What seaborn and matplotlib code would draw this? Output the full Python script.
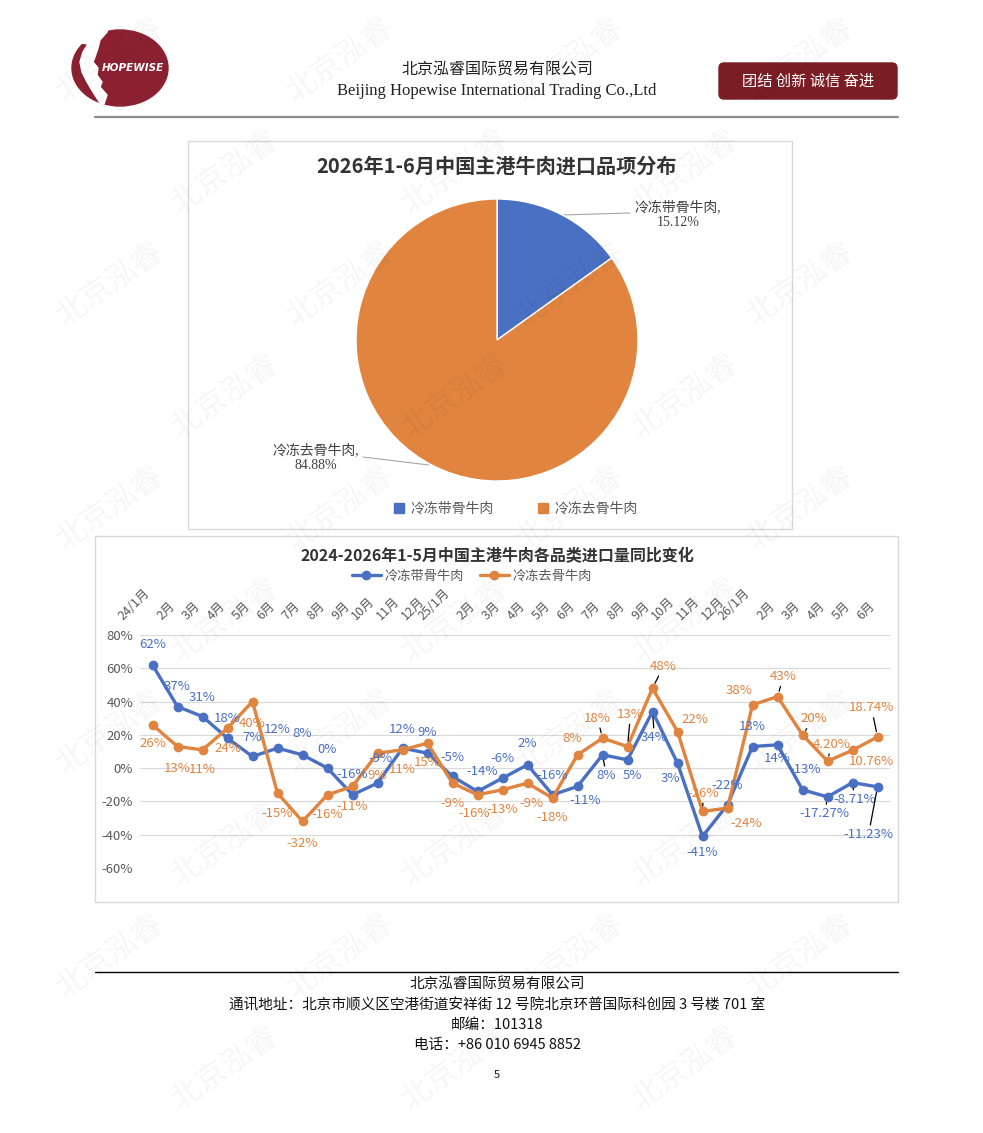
import matplotlib
matplotlib.use("Agg")
import matplotlib.pyplot as plt
from matplotlib.patches import Rectangle, FancyBboxPatch, Ellipse, Polygon, Patch
from matplotlib.ticker import FuncFormatter
import pandas as pd
import seaborn as sns

W, H = 983, 1133

# ---- data ----
pie_title = "2026年1-6月中国主港牛肉进口品项分布"
pie_names = ["冷冻带骨牛肉", "冷冻去骨牛肉"]
pie_shares = [15.12, 84.88]

line_title = "2024-2026年1-5月中国主港牛肉各品类进口量同比变化"
series_names = ["冷冻带骨牛肉", "冷冻去骨牛肉"]
months = ["24/1月", "2月", "3月", "4月", "5月", "6月", "7月", "8月", "9月", "10月", "11月", "12月",
          "25/1月", "2月", "3月", "4月", "5月", "6月", "7月", "8月", "9月", "10月", "11月", "12月",
          "26/1月", "2月", "3月", "4月", "5月", "6月"]
bone_in = [62, 37, 31, 18, 7, 12, 8, 0, -16, -9, 12, 9,
           -5, -14, -6, 2, -16, -11, 8, 5, 34, 3, -41, -22,
           13, 14, -13, -17.27, -8.71, -11.23]
boneless = [26, 13, 11, 24, 40, -15, -32, -16, -11, 9, 11, 15,
            -9, -16, -13, -9, -18, 8, 18, 13, 48, 22, -26, -24,
            38, 43, 20, 4.20, 10.76, 18.74]

# ---- label placement (pixel offsets from the point) ----
bone_off = [(0, 20), (0, 20), (0, 19), (0, 20), (0, 19), (0, 19), (0, 21), (0, 19), (0, 20), (3, 25),
            (0, 19), (0, 21), (0, 19), (5, 20), (0, 20), (0, 21), (0, 19), (8, -14), (4, -21), (5, -16),
            (2, -26), (-7, -15), (0, -16), (0, 19), (0, 20), (0, -14), (3, 20), (-3, -17), (2, -17), (-9, -48)]
boneless_off = [(0, -19), (0, -22), (0, -20), (0, -20), (0, -22), (0, -20), (0, -22), (0, -20), (0, -20), (0, -22),
                (0, -20), (0, -19), (0, -20), (-3, -19), (0, -20), (4, -20), (0, -19), (-5, 16), (-5, 20), (3, 32),
                (11, 22), (17, 12), (1, 18), (19, -15), (-13, 14), (6, 20), (11, 16), (4, 17), (19, -11), (-6, 29)]
bone_leader = {18, 20, 27, 28, 29}
boneless_leader = {18, 19, 20, 22, 25, 26, 27, 29}

BLUE = "#4A70C4"
ORANGE = "#E0843F"
GREY = "#595959"

sns.set_style("white")
plt.rcParams['font.family'] = ['Noto Sans CJK SC', 'DejaVu Sans']
plt.rcParams['axes.unicode_minus'] = False
SERIF = ['Liberation Serif', 'Noto Sans CJK SC']


def box(l, t, r, b):
    return [l / W, 1 - b / H, (r - l) / W, (b - t) / H]


fig = plt.figure(figsize=(W / 100, H / 100), dpi=100, facecolor="white")
bg = fig.add_axes([0, 0, 1, 1], zorder=0)
bg.set_xlim(0, W)
bg.set_ylim(H, 0)
bg.axis("off")

# ---- header ----
bg.add_patch(Ellipse((120, 68), 96, 76, color="#8B2130"))
bg.add_patch(Polygon([(60, 20), (110, 20), (107, 32), (100, 40), (98, 48), (95, 57), (93, 62), (98, 68),
                      (97, 75), (102, 82), (100, 87), (107, 95), (104, 104), (100, 103), (93, 92),
                      (87, 82), (82, 72), (80, 62), (83, 52), (88, 44), (60, 40)],
                     closed=True, color="white"))
bg.text(133, 68, "HOPEWISE", color="white", fontsize=7.5, weight="bold", style="italic",
        ha="center", va="center", family="DejaVu Sans")
bg.text(497, 70, "北京泓睿国际贸易有限公司", fontsize=11.5, ha="center", va="center", color="#222222")
bg.text(497, 91, "Beijing Hopewise International Trading Co.,Ltd", fontsize=12, family="Liberation Serif",
        ha="center", va="center", color="#222222")
bg.add_patch(FancyBboxPatch((719, 63), 178, 36, boxstyle="round,pad=0,rounding_size=5", color="#7A1D25"))
bg.text(808, 81, "团结 创新 诚信 奋进", color="white", fontsize=11, ha="center", va="center")
bg.plot([95, 898], [117, 117], color="#8C8C8C", lw=1.6)

# ---- chart frames ----
bg.add_patch(Rectangle((188, 141), 604, 388, fill=False, ec="#D9D9D9", lw=1))
bg.add_patch(Rectangle((95, 536), 803, 366, fill=False, ec="#D9D9D9", lw=1))

# ---- pie ----
bg.text(497, 166, pie_title, fontsize=14.5, weight="bold", ha="center", va="center", color="#333333")
ax_pie = fig.add_axes(box(356, 199, 638, 481))
ax_pie.pie(pie_shares, colors=[BLUE, ORANGE], startangle=90, counterclock=False, radius=1,
           wedgeprops=dict(edgecolor="white", linewidth=1))
ax_pie.set_xlim(-1, 1)
ax_pie.set_ylim(-1, 1)

bg.plot([562, 630], [215, 213], color="#A6A6A6", lw=0.8)
bg.text(678, 215, f"{pie_names[0]},\n{pie_shares[0]:.2f}%", family=SERIF, fontsize=10,
        ha="center", va="center", color="#404040", linespacing=1.15)
bg.plot([363, 429], [457, 465], color="#A6A6A6", lw=0.8)
bg.text(316, 458, f"{pie_names[1]},\n{pie_shares[1]:.2f}%", family=SERIF, fontsize=10,
        ha="center", va="center", color="#404040", linespacing=1.15)

pie_leg = fig.legend([Patch(color=BLUE), Patch(color=ORANGE)], pie_names, loc="center",
                     bbox_to_anchor=(516 / W, 1 - 509 / H), ncol=2, frameon=False,
                     handlelength=0.7, handleheight=0.7, columnspacing=3.2, handletextpad=0.5,
                     prop={"family": SERIF, "size": 10})
for t in pie_leg.get_texts():
    t.set_color(GREY)

# ---- line chart ----
bg.text(497, 556, line_title, fontsize=11.5, weight="bold", ha="center", va="center", color="#333333")
ax = fig.add_axes(box(140, 635, 890, 868))
df = pd.DataFrame({
    "idx": list(range(len(months))) * 2,
    "value": bone_in + boneless,
    "series": [series_names[0]] * len(months) + [series_names[1]] * len(months),
})
sns.lineplot(data=df, x="idx", y="value", hue="series", hue_order=series_names,
             palette=[BLUE, ORANGE], marker="o", markersize=7, markeredgewidth=0,
             linewidth=2.4, ax=ax)
handles, labels = ax.get_legend_handles_labels()
ax.get_legend().remove()
line_leg = fig.legend(handles, labels, loc="center", bbox_to_anchor=(472 / W, 1 - 576 / H), ncol=2,
                      frameon=False, fontsize=9.5, handlelength=2.2, columnspacing=1.2, handletextpad=0.3)
for t in line_leg.get_texts():
    t.set_color(GREY)

ax.set_xlim(-0.5, len(months) - 0.5)
ax.set_ylim(-60, 80)
ax.set_yticks(range(-60, 81, 20))
ax.yaxis.set_major_formatter(FuncFormatter(lambda v, p: f"{v:.0f}%"))
ax.grid(axis="y", color="#D9D9D9", lw=0.8)
ax.grid(axis="x", visible=False)
for s in ax.spines.values():
    s.set_visible(False)
ax.xaxis.tick_top()
ax.set_xticks(range(len(months)))
ax.set_xticklabels(months, rotation=45, ha="right", fontsize=9, color=GREY)
ax.tick_params(axis="x", length=0, pad=9)
ax.tick_params(axis="y", length=0, pad=5, labelsize=9.5, labelcolor=GREY)
ax.set_xlabel("")
ax.set_ylabel("")


def fmt(v):
    return f"{v}%" if isinstance(v, int) else f"{v:.2f}%"


for vals, offs, leaders, col in [(bone_in, bone_off, bone_leader, BLUE),
                                 (boneless, boneless_off, boneless_leader, ORANGE)]:
    for i, v in enumerate(vals):
        arrow = None
        if i in leaders:
            arrow = dict(arrowstyle="-", color="black", lw=0.9, shrinkA=0, shrinkB=4)
        ax.annotate(fmt(v), (i, v), xytext=offs[i], textcoords="offset pixels",
                    ha="center", va="center", fontsize=9.5, color=col, arrowprops=arrow,
                    annotation_clip=False)

# ---- footer ----
bg.plot([95, 898], [972, 972], color="black", lw=1)
footer = ["北京泓睿国际贸易有限公司",
          "通讯地址：北京市顺义区空港街道安祥街 12 号院北京环普国际科创园 3 号楼 701 室",
          "邮编：101318",
          "电话：+86 010 6945 8852"]
for k, line in enumerate(footer):
    bg.text(497, 985 + 20 * k, line, fontsize=10.5, ha="center", va="center", color="#111111")
bg.text(497, 1075, "5", fontsize=8, ha="center", va="center", color="#111111")

# ---- watermark (kept inside the page) ----
for r in range(10):
    for c in range(4):
        x = 110 + c * 230 + (r % 2) * 115
        y = 60 + r * 112
        if x > 900:
            continue
        fig.text(x / W, 1 - y / H, "北京泓睿", rotation=35, fontsize=22, color="#000000",
                 alpha=0.04, ha="center", va="center", zorder=10)

fig.savefig("out.png", dpi=100)
